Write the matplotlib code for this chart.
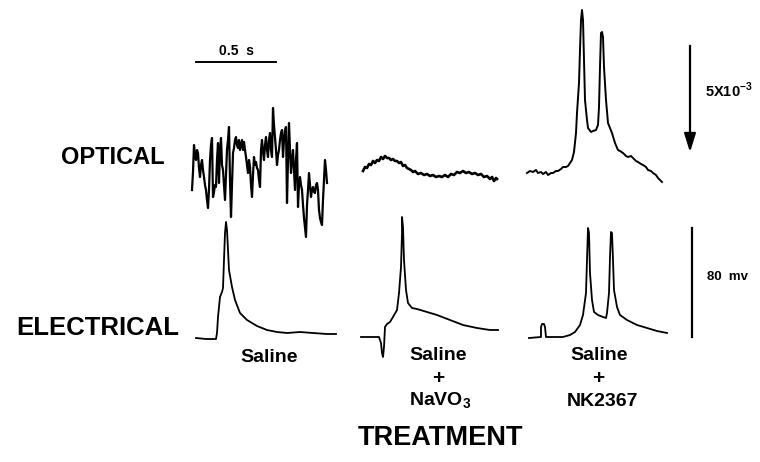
import matplotlib
matplotlib.use("Agg")
import matplotlib.pyplot as plt

plt.rcParams["font.family"] = ["Liberation Sans", "DejaVu Sans"]
plt.rcParams["mathtext.fontset"] = "custom"
plt.rcParams["mathtext.rm"] = "Liberation Sans:bold"
plt.rcParams["mathtext.bf"] = "Liberation Sans:bold"

# traces, in pixel units (x right, y down)
# optical, saline (noisy), one sample per pixel column from x=192
opt1_x0 = 192
opt1_y = [190, 172, 145, 155, 160, 150, 153, 168, 177, 165, 160, 170, 177, 185, 190, 200, 208, 190,
          160, 145, 138, 197, 192, 185, 187, 160, 143, 183, 150, 138, 165, 170, 185, 200, 175, 150,
          140, 127, 180, 217, 185, 153, 148, 140, 137, 145, 148, 140, 150, 145, 140, 150, 142, 150,
          157, 165, 173, 160, 167, 185, 197, 175, 157, 165, 162, 168, 170, 180, 187, 150, 140, 152,
          160, 145, 137, 150, 157, 140, 133, 150, 157, 108, 125, 137, 150, 165, 155, 150, 140, 133,
          130, 157, 140, 130, 127, 203, 160, 123, 150, 173, 160, 150, 170, 190, 160, 143, 207, 185,
          177, 185, 190, 205, 218, 228, 237, 205, 190, 173, 185, 197, 190, 187, 192, 193, 185, 183,
          190, 210, 218, 222, 225, 200, 180, 160, 170, 183]
opt1_x = [opt1_x0 + i for i in range(len(opt1_y))]

# optical, saline + NaVO3
opt2_x = [363, 365, 367, 369, 371, 373, 375, 377, 379, 381, 383, 385, 387, 389, 391, 393, 395, 397,
          399, 401, 403, 405, 407, 409, 411, 413, 415, 418, 421, 424, 427, 430, 433, 436, 439, 442,
          445, 448, 451, 454, 457, 460, 463, 466, 469, 472, 475, 478, 481, 484, 487, 490, 492, 494,
          496, 497]
opt2_y = [171, 167, 168, 164, 165, 161, 163, 160, 161, 157, 159, 156, 158, 158, 160, 159, 161, 161,
          163, 162, 166, 165, 168, 169, 170, 172, 171, 174, 173, 175, 174, 176, 175, 177, 176, 177,
          175, 177, 174, 175, 172, 173, 171, 173, 172, 174, 173, 175, 174, 177, 176, 179, 177, 181,
          178, 179]

# optical, saline + NK2367
opt3_x = [527, 530, 533, 536, 538, 541, 543, 546, 548, 551, 553, 556, 558, 561, 563, 566, 568, 572,
          574, 576, 577, 579, 580, 581, 582, 583, 584, 585, 587, 588, 591, 593, 596, 598, 599, 600,
          601, 602, 603, 604, 606, 608, 612, 615, 618, 620, 623, 626, 628, 631, 633, 636, 638, 641,
          643, 646, 648, 651, 653, 656, 658, 660, 662]
opt3_y = [173, 171, 172, 170, 173, 172, 174, 172, 175, 173, 173, 171, 171, 169, 167, 167, 166, 160,
          152, 133, 113, 83, 50, 20, 10, 20, 60, 100, 120, 128, 132, 131, 130, 125, 107, 67, 33, 32,
          37, 67, 100, 123, 133, 143, 150, 151, 153, 156, 157, 156, 158, 161, 162, 164, 165, 167,
          170, 171, 173, 175, 178, 180, 182]

# electrical, saline
el1_x = [196, 206, 216, 217, 218, 220, 222, 223, 224, 225, 226, 227, 228, 229, 232, 235, 240, 247,
         257, 267, 277, 287, 300, 313, 327, 336]
el1_y = [338, 339, 339, 333, 317, 297, 292, 288, 260, 233, 222, 230, 250, 270, 287, 300, 313, 320,
         326, 330, 332, 333, 332, 333, 334, 334]

# electrical, saline + NaVO3
el2_x = [361, 370, 379, 381, 382, 383, 384, 385, 387, 390, 393, 397, 399, 401, 402, 402, 403, 404,
         406, 408, 412, 417, 427, 437, 450, 463, 477, 490, 498]
el2_y = [337, 337, 337, 343, 353, 357, 347, 327, 324, 322, 317, 310, 293, 267, 233, 217, 227, 260,
         290, 303, 308, 309, 312, 315, 320, 325, 328, 330, 330]

# electrical, saline + NK2367
el3_x = [529, 541, 541, 542, 544, 545, 546, 553, 563, 570, 575, 580, 583, 586, 587, 588, 589, 590,
         592, 594, 598, 603, 606, 607, 609, 610, 611, 612, 613, 614, 617, 620, 627, 637, 647, 657,
         667]
el3_y = [338, 337, 327, 324, 324, 327, 337, 337, 337, 335, 332, 325, 315, 293, 260, 228, 233, 273,
         300, 312, 315, 317, 318, 313, 293, 257, 232, 233, 260, 290, 307, 315, 320, 325, 328, 331,
         333]

# scale bars
time_bar_x = [196, 276]
time_bar_y = [62, 62]
mv_bar_x = [692, 692]
mv_bar_y = [228, 337]

fig = plt.figure(figsize=(7.6, 4.62), dpi=100)
ax = fig.add_axes([0, 0, 1, 1])
ax.set_xlim(0, 760)
ax.set_ylim(462, 0)
ax.set_axis_off()

k = "black"
ax.plot(opt1_x, opt1_y, color=k, lw=1.6)
ax.plot(opt2_x, opt2_y, color=k, lw=1.9)
ax.plot(opt3_x, opt3_y, color=k, lw=1.4)
for xs, ys in [(el1_x, el1_y), (el2_x, el2_y), (el3_x, el3_y)]:
    ax.plot(xs, ys, color=k, lw=1.3)

ax.plot(time_bar_x, time_bar_y, color=k, lw=1.4)
ax.plot(mv_bar_x, mv_bar_y, color=k, lw=1.6)
ax.annotate("", xy=(690, 155), xytext=(690, 43),
            arrowprops=dict(arrowstyle="-|>,head_length=0.8,head_width=0.25",
                            color=k, lw=1.6, mutation_scale=14))

small = dict(fontweight="bold", ha="left", va="center")
ax.text(219, 51, "0.5  s", fontsize=10, **small)
ax.text(705, 90, r"5X10$^{-3}$", fontsize=10.5, **small)
ax.text(707, 277, "80  mv", fontsize=9.5, **small)

ax.text(113, 158, "OPTICAL", fontsize=17, fontweight="bold", ha="center", va="center")
ax.text(98, 328, "ELECTRICAL", fontsize=18.5, fontweight="bold", ha="center", va="center")
ax.text(441, 438, "TREATMENT", fontsize=19.5, fontweight="bold", ha="center", va="center")

lab = dict(fontsize=14, fontweight="heavy", ha="center", va="center")
plus = dict(fontsize=15, fontweight="bold", ha="center", va="center")
ax.text(269, 357, "Saline", **lab)
ax.text(438, 356, "Saline", **lab)
ax.text(438, 378, "+", **plus)
ax.text(440, 401, r"NaVO$_{3}$", **lab)
ax.text(599, 356, "Saline", **lab)
ax.text(598, 378, "+", **plus)
ax.text(602, 401, "NK2367", **lab)

fig.savefig("out.png", dpi=100, facecolor="white")
